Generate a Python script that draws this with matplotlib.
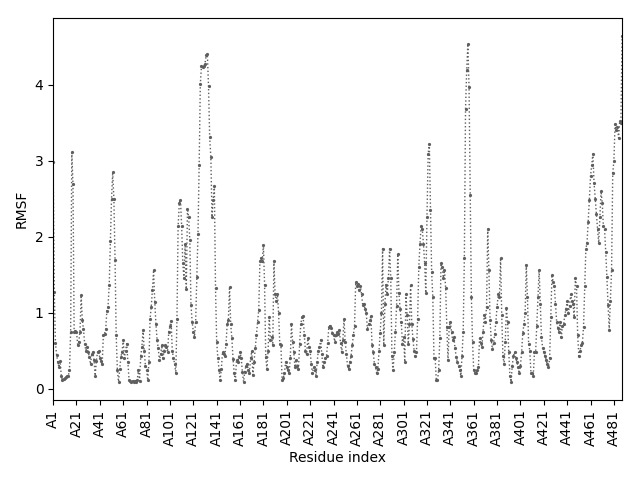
import numpy as np
import matplotlib
matplotlib.use("Agg")
import matplotlib.pyplot as plt

# RMSF per residue (chain A)
rmsf = [
    # A1-A20
    2.98, 1.27, 0.6, 0.44, 0.35, 0.28, 0.36, 0.17, 0.11, 0.12,
    0.14, 0.15, 0.16, 0.17, 0.24, 0.75, 3.11, 2.69, 0.75, 0.76,
    # A21-A40
    0.75, 0.58, 0.62, 0.75, 1.23, 0.9, 0.78, 0.59, 0.5, 0.55,
    0.48, 0.42, 0.32, 0.45, 0.48, 0.38, 0.17, 0.36, 0.48, 0.5,
    # A41-A60
    0.4, 0.36, 0.32, 0.70, 0.72, 0.78, 1.02, 1.08, 1.36, 1.94,
    2.5, 2.85, 2.5, 1.7, 0.7, 0.24, 0.09, 0.26, 0.42, 0.48,
    # A61-A80
    0.64, 0.4, 0.5, 0.59, 0.35, 0.11, 0.1, 0.09, 0.1, 0.08,
    0.1, 0.09, 0.11, 0.25, 0.1, 0.43, 0.55, 0.77, 0.49, 0.3,
    # A81-A100
    0.25, 0.11, 0.35, 0.92, 1.08, 1.3, 1.56, 1.14, 0.85, 0.64,
    0.53, 0.37, 0.45, 0.57, 0.4, 0.5, 0.57, 0.55, 0.48, 0.75,
    # A101-A120
    0.82, 0.89, 0.5, 0.4, 0.33, 0.2, 0.92, 2.14, 2.44, 2.49,
    2.14, 1.65, 1.45, 1.9, 1.31, 2.37, 2.26, 1.96, 1.1, 0.88,
    # A121-A140
    0.75, 0.68, 0.88, 1.47, 2.04, 2.95, 4.01, 4.25, 4.24, 4.25,
    4.28, 4.39, 4.41, 3.99, 3.31, 3.05, 2.26, 2.49, 2.67, 1.32,
    # A141-A160
    0.62, 0.4, 0.25, 0.11, 0.26, 0.48, 0.45, 0.43, 0.59, 0.85,
    0.9, 1.34, 0.85, 0.66, 0.39, 0.2, 0.11, 0.38, 0.35, 0.42,
    # A161-A180
    0.48, 0.4, 0.22, 0.09, 0.22, 0.3, 0.32, 0.25, 0.2, 0.4,
    0.49, 0.18, 0.35, 0.53, 0.7, 0.88, 1.03, 1.68, 1.72, 1.68,
    # A181-A200
    1.89, 1.37, 0.41, 0.26, 0.5, 0.94, 0.64, 0.68, 0.57, 1.68,
    1.24, 1.15, 1.25, 0.99, 0.59, 0.57, 0.11, 0.14, 0.2, 0.35,
    # A201-A220
    0.28, 0.24, 0.2, 0.4, 0.85, 0.62, 0.48, 0.28, 0.38, 0.3,
    0.26, 0.59, 0.85, 0.94, 0.96, 0.7, 0.49, 0.45, 0.66, 0.55,
    # A221-A240
    0.49, 0.32, 0.2, 0.28, 0.24, 0.17, 0.35, 0.5, 0.55, 0.64,
    0.45, 0.28, 0.35, 0.4, 0.43, 0.6, 0.81, 0.83, 0.8, 0.73,
    # A241-A260
    0.7, 0.62, 0.7, 0.75, 0.72, 0.77, 0.6, 0.48, 0.64, 0.92,
    0.62, 0.45, 0.3, 0.26, 0.35, 0.43, 0.57, 0.7, 0.83, 1.4,
    # A261-A280
    1.35, 1.38, 1.3, 1.35, 1.24, 1.1, 1.12, 1.05, 1.0, 0.79,
    0.85, 0.9, 0.96, 0.57, 0.48, 0.32, 0.28, 0.2, 0.26, 0.5,
    # A281-A300
    0.73, 1.0, 1.84, 0.57, 1.12, 1.37, 1.24, 1.46, 1.84, 1.46,
    0.43, 0.24, 0.48, 0.75, 1.09, 1.77, 1.26, 1.05, 0.88, 0.59,
    # A301-A320
    0.68, 0.35, 1.24, 0.97, 0.59, 0.85, 1.37, 0.85, 0.65, 0.5,
    0.43, 0.48, 0.92, 1.6, 1.9, 2.14, 2.1, 1.9, 1.65, 1.26,
    # A321-A340
    2.26, 3.09, 3.22, 2.35, 1.54, 1.2, 0.4, 0.4, 0.11, 0.11,
    0.24, 0.66, 1.65, 1.6, 1.46, 1.56, 1.32, 0.81, 0.37, 0.81,
    # A341-A360
    0.88, 0.75, 0.64, 0.68, 0.53, 0.42, 0.35, 0.3, 0.24, 0.17,
    0.43, 0.75, 1.72, 3.68, 4.2, 4.54, 3.97, 2.55, 1.21, 0.62,
    # A361-A380
    0.24, 0.2, 0.2, 0.25, 0.28, 0.66, 0.6, 0.55, 0.75, 0.97,
    0.88, 1.08, 2.1, 1.56, 0.9, 0.64, 0.52, 0.6, 0.72, 0.88,
    # A381-A400
    1.08, 1.24, 1.2, 1.72, 0.97, 0.43, 0.32, 0.62, 1.06, 0.88,
    0.48, 0.17, 0.09, 0.3, 0.43, 0.48, 0.4, 0.35, 0.28, 0.2,
    # A401-A420
    0.3, 0.48, 0.73, 0.85, 0.99, 1.63, 1.2, 0.59, 0.5, 0.2,
    0.2, 0.17, 0.48, 0.48, 0.83, 1.2, 1.56, 1.12, 0.68, 0.53,
    # A421-A440
    0.48, 0.43, 0.38, 0.32, 0.28, 0.4, 0.94, 1.5, 1.4, 1.35,
    1.12, 0.88, 0.8, 0.75, 0.88, 0.68, 0.83, 0.85, 0.97, 1.05,
    # A441-A460
    1.15, 1.0, 1.09, 1.24, 1.15, 1.12, 0.94, 1.45, 1.35, 0.7,
    0.43, 0.5, 0.57, 0.6, 0.81, 1.35, 1.84, 1.92, 2.2, 2.49,
    # A461-A488
    2.8, 2.95, 3.09, 2.71, 2.5, 2.3, 2.1, 1.92, 2.26, 2.6,
    2.45, 2.14, 2.1, 1.8, 1.47, 1.1, 0.77, 1.15, 1.56, 2.84,
    3.0, 3.48, 3.4, 3.45, 3.3, 3.53, 3.5, 4.65,
]

residues = ["A%d" % (i + 1) for i in range(len(rmsf))]
tick_step = 20

x = np.arange(len(rmsf))

fig, ax = plt.subplots(figsize=(6.4, 4.8), dpi=100)
ax.plot(x, rmsf, linestyle=":", color="#5f5f5f", linewidth=1.0,
        marker="o", markersize=1.3)
ax.set_xticks(x[::tick_step])
ax.set_xticklabels(residues[::tick_step], rotation=90)
ax.set_xlim(0, len(rmsf) - 1)
ax.set_xlabel("Residue index")
ax.set_ylabel("RMSF")
fig.subplots_adjust(left=0.083, right=0.972, bottom=0.167, top=0.962)
plt.savefig("out.png", dpi=100)
